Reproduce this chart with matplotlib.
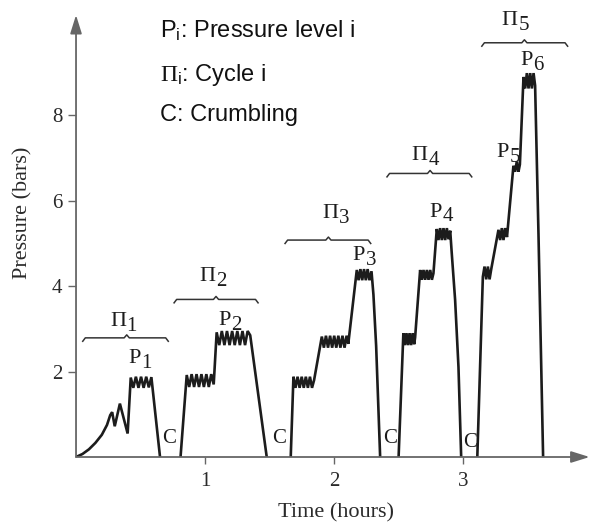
import numpy as np
import matplotlib.pyplot as plt

# fonts: serif for the chart, sans for the key in the corner
plt.rcParams['font.family'] = ['Liberation Serif', 'DejaVu Serif']
plt.rcParams['mathtext.fontset'] = 'custom'
plt.rcParams['mathtext.rm'] = 'Liberation Serif'
plt.rcParams['mathtext.it'] = 'Liberation Serif:italic'
plt.rcParams['mathtext.bf'] = 'Liberation Serif:bold'
plt.rcParams['mathtext.sf'] = 'Liberation Sans'

# DATA (time in hours, pressure in bars)
t_c1 = [0, 0.05, 0.10, 0.15, 0.20, 0.24, 0.265, 0.28, 0.30, 0.34, 0.40,
        0.424, 0.444, 0.464, 0.484, 0.504, 0.524, 0.544, 0.564, 0.584, 0.651]
p_c1 = [0, 0.07, 0.18, 0.33, 0.52, 0.75, 0.98, 1.05, 0.72, 1.25, 0.55,
        1.86, 1.62, 1.88, 1.62, 1.88, 1.62, 1.88, 1.63, 1.87, 0]

t_c2 = [0.81, 0.858, 0.877, 0.896, 0.915, 0.934, 0.953, 0.972, 0.991, 1.010, 1.029, 1.048, 1.067,
        1.09, 1.11, 1.13, 1.15, 1.17, 1.19, 1.21, 1.23, 1.25, 1.27, 1.29, 1.31, 1.33, 1.35, 1.478]
p_c2 = [0, 1.92, 1.64, 1.94, 1.64, 1.94, 1.64, 1.94, 1.64, 1.94, 1.64, 1.94, 1.70,
        2.92, 2.62, 2.95, 2.62, 2.95, 2.62, 2.95, 2.62, 2.95, 2.62, 2.95, 2.62, 2.95, 2.85, 0]

t_c3 = [1.664, 1.685, 1.701, 1.717, 1.733, 1.749, 1.765, 1.781, 1.797, 1.813, 1.829, 1.845,
        1.905, 1.921, 1.937, 1.953, 1.969, 1.985, 2.001, 2.017, 2.033, 2.049, 2.065, 2.081, 2.097, 2.11,
        2.176, 2.190, 2.204, 2.218, 2.232, 2.246, 2.260, 2.274, 2.29, 2.305, 2.326, 2.357]
p_c3 = [0, 1.88, 1.62, 1.88, 1.62, 1.88, 1.62, 1.88, 1.62, 1.88, 1.62, 1.80,
        2.82, 2.56, 2.84, 2.56, 2.84, 2.56, 2.84, 2.56, 2.84, 2.56, 2.84, 2.56, 2.84, 2.65,
        4.38, 4.14, 4.40, 4.14, 4.40, 4.14, 4.40, 4.14, 4.35, 3.80, 2.60, 0]

t_c4 = [2.50, 2.537, 2.549, 2.561, 2.573, 2.585, 2.597, 2.609, 2.621, 2.628,
        2.667, 2.680, 2.693, 2.706, 2.719, 2.732, 2.745, 2.758, 2.77,
        2.796, 2.809, 2.822, 2.835, 2.848, 2.861, 2.874, 2.887, 2.90,
        2.912, 2.938, 2.964, 2.985]
p_c4 = [0, 2.90, 2.62, 2.90, 2.62, 2.90, 2.62, 2.90, 2.64, 2.80,
        4.38, 4.15, 4.38, 4.15, 4.38, 4.15, 4.38, 4.15, 4.30,
        5.34, 5.08, 5.36, 5.08, 5.36, 5.08, 5.36, 5.10, 5.30,
        4.77, 3.68, 2.11, 0]

t_c5 = [3.11, 3.153, 3.166, 3.179, 3.192, 3.205, 3.218,
        3.274, 3.287, 3.300, 3.313, 3.326, 3.34,
        3.39, 3.403, 3.416, 3.429, 3.44,
        3.468, 3.481, 3.494, 3.507, 3.520, 3.533, 3.546, 3.558, 3.584, 3.62]
p_c5 = [0, 4.22, 4.46, 4.16, 4.46, 4.16, 4.40,
        5.32, 5.08, 5.36, 5.08, 5.36, 5.15,
        6.82, 6.68, 6.92, 6.68, 6.85,
        8.90, 8.63, 8.99, 8.63, 8.99, 8.63, 8.99, 8.70, 5.24, 0]

cycles_t = [t_c1, t_c2, t_c3, t_c4, t_c5]
cycles_p = [p_c1, p_c2, p_c3, p_c4, p_c5]

# braces over each cycle
brace_start = [0.052, 0.76, 1.62, 2.41, 3.145]
brace_end = [0.715, 1.411, 2.284, 3.067, 3.81]
brace_mid = [0.393, 1.085, 1.956, 2.744, 3.475]
brace_level = [2.79, 3.69, 5.08, 6.64, 9.70]

# labels
cycle_names = ['1', '2', '3', '4', '5']
cycle_x = [0.264, 0.956, 1.912, 2.602, 3.30]
cycle_y = [3.07, 4.11, 5.59, 6.96, 10.12]
level_names = ['1', '2', '3', '4', '5', '6']
level_x = [0.405, 1.103, 2.145, 2.739, 3.261, 3.442]
level_y = [2.19, 3.09, 4.61, 5.63, 7.03, 9.18]
crumble_x = [0.664, 1.517, 2.382, 3.002]
crumble_y = [0.32, 0.32, 0.32, 0.24]

xticks = [1, 2, 3]
yticks = [2, 4, 6, 8]

# PLOTTING
axcol = '#666666'
ink = '#1c1c1c'

fig = plt.figure(figsize=(5.93, 5.29), dpi=100)
ax = fig.add_axes([0.1282, 0.1361, 0.866, 0.8355])
ax.set_xlim(0, 3.98)
ax.set_ylim(0, 10.35)

for t, p in zip(cycles_t, cycles_p):
    ax.plot(t, p, color=ink, lw=1.9, solid_joinstyle='miter')

# horizontal curly braces
for x0, x1, xm, lev in zip(brace_start, brace_end, brace_mid, brace_level):
    bx = [x0, x0 + 0.02, xm - 0.02, xm, xm + 0.02, x1 - 0.02, x1]
    by = [lev - 0.08, lev, lev, lev + 0.07, lev, lev, lev - 0.08]
    ax.plot(bx, by, color='#333333', lw=1.1)

def label(x, y, main, sub):
    t = ax.text(x, y, main, fontsize=16, ha='left', va='baseline', color=ink)
    ax.annotate(sub, xy=(1, 0), xycoords=t, xytext=(0.3, -3.5), textcoords='offset points',
                fontsize=15, ha='left', va='bottom', color=ink)

for n, x, y in zip(cycle_names, cycle_x, cycle_y):
    label(x, y, '\u03a0', n)
for n, x, y in zip(level_names, level_x, level_y):
    label(x, y, 'P', n)
for x, y in zip(crumble_x, crumble_y):
    ax.text(x, y, 'C', fontsize=15, ha='left', va='baseline', color=ink)

# axes drawn as arrows
for s in ax.spines.values():
    s.set_visible(False)
arrow = dict(arrowstyle='-|>,head_length=0.8,head_width=0.25', lw=1.3, color=axcol,
             shrinkA=0, shrinkB=0, mutation_scale=14)
ax.annotate('', xy=(1, 0), xytext=(0, 0), xycoords='axes fraction', arrowprops=arrow)
ax.annotate('', xy=(0, 1), xytext=(0, 0), xycoords='axes fraction', arrowprops=arrow)

ax.set_xticks(xticks)
ax.set_yticks(yticks)
ax.tick_params(axis='x', direction='out', length=5, width=1, color=axcol, pad=6,
               labelsize=15, labelcolor='#2a2a2a')
ax.tick_params(axis='y', direction='out', length=6, width=1, color=axcol, pad=4,
               labelsize=15, labelcolor='#2a2a2a')

fig.text(336 / 593, 1 - 513 / 529, 'Time (hours)', fontsize=16, ha='center', va='center', color='#2a2a2a')
fig.text(23 / 593, 1 - 213 / 529, 'Pressure (bars)', fontsize=16, rotation=90,
         ha='center', va='center', color='#2a2a2a')

# key in the upper left
key = [r'$\mathsf{P}_\mathsf{i}$: Pressure level i', r'$\Pi_\mathsf{i}$: Cycle i', 'C: Crumbling']
key_y = [38, 81, 121]
for s, yy in zip(key, key_y):
    fig.text(160 / 593, 1 - yy / 529, s, fontsize=17, family=['Liberation Sans', 'DejaVu Sans'],
             ha='left', va='baseline', color='#111111')

fig.savefig('out.png', dpi=100)
